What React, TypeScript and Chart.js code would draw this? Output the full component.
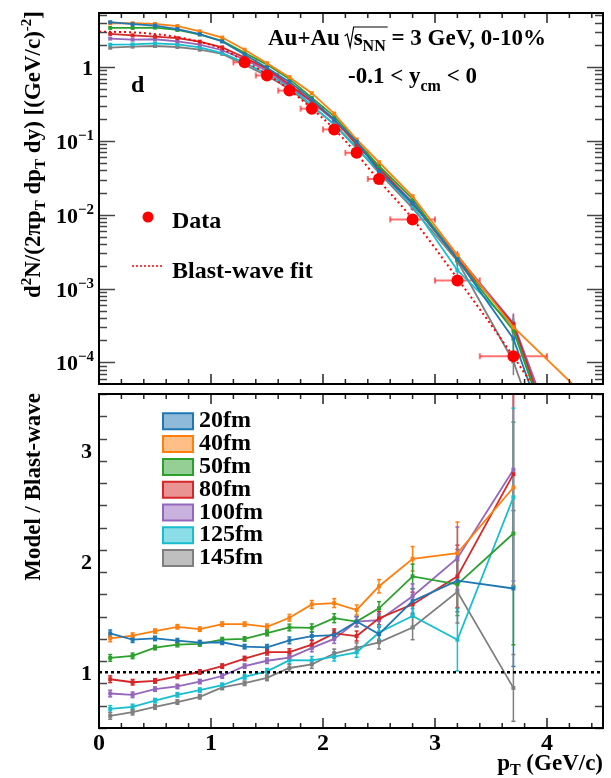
import React, { useEffect, useRef } from "react";
import { Chart, registerables } from "chart.js";

Chart.register(...registerables);

// ---------------- DATA ----------------
const PT = [0.1, 0.3, 0.5, 0.7, 0.9, 1.1, 1.3, 1.5, 1.7, 1.9, 2.1, 2.3, 2.5, 2.8, 3.2, 3.7];

const MODEL_NAMES = ["20fm", "40fm", "50fm", "80fm", "100fm", "125fm", "145fm"];
const MODEL_COLORS = ["#1f77b4", "#ff7f0e", "#2ca02c", "#d62728", "#9467bd", "#17becf", "#7f7f7f"];
const MODEL_FILLS = [
  "rgba(31,119,180,0.5)",
  "rgba(255,127,14,0.5)",
  "rgba(44,160,44,0.5)",
  "rgba(214,39,40,0.5)",
  "rgba(148,103,189,0.5)",
  "rgba(23,190,207,0.5)",
  "rgba(127,127,127,0.5)",
];

// Spectra (top panel), d2N/(2pi pT dpT dy)
const SPEC_20FM = [4.05, 3.81, 3.65, 3.27, 2.79, 2.22, 1.48, 0.98, 0.63, 0.365, 0.194, 0.0976, 0.039, 0.0144, 0.0025, 0.00021];
const SPEC_40FM = [3.92, 3.92, 3.84, 3.59, 3.05, 2.51, 1.72, 1.13, 0.73, 0.443, 0.235, 0.1045, 0.0514, 0.0178, 0.00284, 0.0003];
const SPEC_50FM = [3.39, 3.39, 3.42, 3.18, 2.76, 2.26, 1.56, 1.08, 0.687, 0.385, 0.215, 0.0976, 0.0457, 0.0164, 0.00245, 0.00027];
const SPEC_80FM = [2.81, 2.69, 2.58, 2.46, 2.21, 1.85, 1.35, 0.945, 0.579, 0.343, 0.196, 0.0888, 0.0431, 0.0142, 0.00255, 0.00033];
const SPEC_100FM = [2.43, 2.35, 2.38, 2.23, 2.02, 1.69, 1.27, 0.883, 0.555, 0.335, 0.189, 0.0976, 0.0426, 0.0148, 0.00277, 0.00034];
const SPEC_125FM = [2.01, 2.03, 2.09, 2.03, 1.85, 1.55, 1.15, 0.807, 0.544, 0.304, 0.166, 0.079, 0.0394, 0.0133, 0.00177, 0.00031];
const SPEC_145FM = [1.83, 1.89, 1.93, 1.87, 1.72, 1.51, 1.08, 0.76, 0.509, 0.295, 0.17, 0.0817, 0.0368, 0.0123, 0.00236, 0.000103];
const SPECTRA = [SPEC_20FM, SPEC_40FM, SPEC_50FM, SPEC_80FM, SPEC_100FM, SPEC_125FM, SPEC_145FM];
// last (off-scale) point of each model curve
const TAIL_PT = [4.1, 4.3, 4.1, 4.1, 4.1, 4.1, 4.1];
const TAIL_VAL = [4e-6, 4e-5, 5e-6, 6e-6, 8e-6, 5e-6, 2e-6];

// Ratios Model / Blast-wave (bottom panel)
const RATIO_20FM = [1.35, 1.293, 1.305, 1.284, 1.267, 1.27, 1.231, 1.225, 1.287, 1.326, 1.335, 1.456, 1.344, 1.64, 1.824, 1.753];
const RATIO_40FM = [1.305, 1.329, 1.37, 1.409, 1.388, 1.433, 1.433, 1.409, 1.49, 1.61, 1.622, 1.56, 1.773, 2.02, 2.07, 2.66];
const RATIO_50FM = [1.13, 1.148, 1.222, 1.249, 1.255, 1.293, 1.3, 1.353, 1.403, 1.4, 1.486, 1.456, 1.575, 1.862, 1.79, 2.247];
const RATIO_80FM = [0.938, 0.911, 0.923, 0.964, 1.003, 1.056, 1.124, 1.181, 1.181, 1.249, 1.35, 1.326, 1.486, 1.61, 1.862, 2.78];
const RATIO_100FM = [0.81, 0.798, 0.849, 0.873, 0.917, 0.967, 1.056, 1.104, 1.133, 1.219, 1.3, 1.456, 1.468, 1.684, 2.025, 2.82];
const RATIO_125FM = [0.671, 0.689, 0.745, 0.798, 0.84, 0.884, 0.959, 1.009, 1.11, 1.107, 1.142, 1.18, 1.358, 1.507, 1.293, 2.573];
const RATIO_145FM = [0.609, 0.642, 0.689, 0.733, 0.78, 0.864, 0.902, 0.95, 1.039, 1.071, 1.169, 1.219, 1.27, 1.403, 1.723, 0.86];
const RATIOS = [RATIO_20FM, RATIO_40FM, RATIO_50FM, RATIO_80FM, RATIO_100FM, RATIO_125FM, RATIO_145FM];
// ratio uncertainties (common up to 3.2 GeV/c, per model at 3.7 GeV/c)
const RATIO_ERR = [0.03, 0.025, 0.02, 0.02, 0.02, 0.02, 0.02, 0.025, 0.03, 0.035, 0.04, 0.045, 0.06, 0.11, 0.28];
const RATIO_ERR_LAST = [0.7, 0.9, 1.0, 1.0, 1.0, 0.8, 0.3];

// Measured data
const DATA_PT = [1.3, 1.5, 1.7, 1.9, 2.1, 2.3, 2.5, 2.8, 3.2, 3.7];
const DATA_VAL = [1.16, 0.77, 0.48, 0.273, 0.143, 0.069, 0.0305, 0.00865, 0.00129, 0.000121];
const DATA_XLO = [1.2, 1.4, 1.6, 1.8, 2.0, 2.2, 2.4, 2.6, 3.0, 3.4];
const DATA_XHI = [1.4, 1.6, 1.8, 2.0, 2.2, 2.4, 2.6, 3.0, 3.4, 4.0];

// Blast-wave fit
const BW_PT = [0, 0.1, 0.3, 0.5, 0.7, 0.9, 1.1, 1.3, 1.5, 1.7, 1.9, 2.1, 2.3, 2.5, 2.8, 3.2, 3.7, 3.85, 4.0, 4.5];
const BW_VAL = [3.0, 3.0, 2.95, 2.8, 2.55, 2.2, 1.75, 1.2, 0.8, 0.49, 0.275, 0.145, 0.067, 0.029, 0.0088, 0.00137, 0.00012, 5.5e-5, 2.6e-5, 2.2e-6];

const Y_TOP_MIN = 5.1e-5;
const Y_TOP_MAX = 5.4;
const Y_BOT_MIN = 0.5;
const Y_BOT_MAX = 3.5;
const X_MIN = 0;
const X_MAX = 4.5;

const FONT = '"Liberation Serif", "Times New Roman", serif';

// ---------------- helpers ----------------
type Part = { t: string; size: number; dy?: number; weight?: string };

function richWidth(ctx: CanvasRenderingContext2D, parts: Part[]) {
  let w = 0;
  for (const p of parts) {
    ctx.font = `${p.weight ?? "bold"} ${p.size}px ${FONT}`;
    w += ctx.measureText(p.t).width;
  }
  return w;
}

function drawRich(ctx: CanvasRenderingContext2D, parts: Part[], x: number, y: number, align: "left" | "right" | "center" = "left") {
  const w = richWidth(ctx, parts);
  let cx = align === "left" ? x : align === "right" ? x - w : x - w / 2;
  ctx.textAlign = "left";
  ctx.textBaseline = "alphabetic";
  for (const p of parts) {
    ctx.font = `${p.weight ?? "bold"} ${p.size}px ${FONT}`;
    ctx.fillText(p.t, cx, y + (p.dy ?? 0));
    cx += ctx.measureText(p.t).width;
  }
}

function line(ctx: CanvasRenderingContext2D, x1: number, y1: number, x2: number, y2: number) {
  ctx.beginPath();
  ctx.moveTo(x1, y1);
  ctx.lineTo(x2, y2);
  ctx.stroke();
}

function drawXTicks(ctx: CanvasRenderingContext2D, chart: any, yEdge: number, dir: number) {
  const xs = chart.scales.x;
  ctx.strokeStyle = "#222";
  ctx.lineWidth = 1.5;
  for (let k = 0; k <= 22; k++) {
    const v = k * 0.2;
    if (v > X_MAX + 1e-9) break;
    const px = xs.getPixelForValue(v);
    const major = k % 5 === 0;
    line(ctx, px, yEdge, px, yEdge + dir * (major ? 10 : 5));
  }
}

function drawFrame(ctx: CanvasRenderingContext2D, area: any) {
  ctx.strokeStyle = "#000";
  ctx.lineWidth = 2;
  ctx.strokeRect(area.left, area.top, area.right - area.left, area.bottom - area.top);
}

// ---------------- plugins ----------------
const topPlugin = {
  id: "topPanel",
  beforeDatasetsDraw(chart: any) {
    const ctx: CanvasRenderingContext2D = chart.ctx;
    const xs = chart.scales.x;
    const ys = chart.scales.y;
    const a = chart.chartArea;
    ctx.save();
    ctx.beginPath();
    ctx.rect(a.left, a.top, a.right - a.left, a.bottom - a.top);
    ctx.clip();
    // model error bars
    SPECTRA.forEach((spec, i) => {
      ctx.strokeStyle = MODEL_COLORS[i];
      ctx.lineWidth = 1.5;
      spec.forEach((v, j) => {
        const err = j < RATIO_ERR.length ? RATIO_ERR[j] : RATIO_ERR_LAST[i];
        const rel = err / RATIOS[i][j];
        const px = xs.getPixelForValue(PT[j]);
        const lo = Math.max(v * (1 - rel), Y_TOP_MIN * 0.5);
        const y1 = ys.getPixelForValue(v * (1 + rel));
        const y2 = ys.getPixelForValue(lo);
        line(ctx, px, y1, px, y2);
      });
    });
    // data x error bars
    ctx.strokeStyle = "rgba(255,0,0,0.55)";
    ctx.lineWidth = 2;
    DATA_PT.forEach((p, j) => {
      const py = ys.getPixelForValue(DATA_VAL[j]);
      const x1 = xs.getPixelForValue(DATA_XLO[j]);
      const x2 = xs.getPixelForValue(DATA_XHI[j]);
      line(ctx, x1, py, x2, py);
      line(ctx, x1, py - 3, x1, py + 3);
      line(ctx, x2, py - 3, x2, py + 3);
    });
    ctx.restore();
  },
  afterDraw(chart: any) {
    const ctx: CanvasRenderingContext2D = chart.ctx;
    const a = chart.chartArea;
    const ys = chart.scales.y;
    ctx.save();
    // y log ticks (left and right)
    ctx.strokeStyle = "#444";
    ctx.lineWidth = 1.5;
    for (let d = -5; d <= 1; d++) {
      for (let k = 1; k <= 9; k++) {
        const v = k * Math.pow(10, d);
        if (v < Y_TOP_MIN || v > Y_TOP_MAX) continue;
        const py = Math.round(ys.getPixelForValue(v)) + 0.5;
        const len = k === 1 ? 16 : 8;
        line(ctx, a.left, py, a.left + len, py);
        line(ctx, a.right, py, a.right - len, py);
      }
    }
    drawXTicks(ctx, chart, a.top, 1);
    drawXTicks(ctx, chart, a.bottom, -1);
    drawFrame(ctx, a);

    // y tick labels
    ctx.fillStyle = "#000";
    for (let d = -4; d <= 0; d++) {
      const py = ys.getPixelForValue(Math.pow(10, d));
      if (d === 0) {
        drawRich(ctx, [{ t: "1", size: 22 }], 93, py + 8, "right");
      } else {
        drawRich(ctx, [{ t: "10", size: 22 }, { t: "\u2212" + -d, size: 15, dy: -9 }], 94, py + 8, "right");
      }
    }

    // y title (rotated)
    ctx.save();
    ctx.translate(40, 11);
    ctx.rotate(-Math.PI / 2);
    drawRich(
      ctx,
      [
        { t: "d", size: 23 },
        { t: "2", size: 15, dy: -9 },
        { t: "N/(2\u03c0p", size: 23 },
        { t: "T", size: 15, dy: 5 },
        { t: " dp", size: 23 },
        { t: "T", size: 15, dy: 5 },
        { t: " dy) [(GeV/c)", size: 23 },
        { t: "-2", size: 15, dy: -9 },
        { t: "]", size: 23 },
      ],
      0,
      0,
      "right"
    );
    ctx.restore();

    // header text
    const hx = 268;
    const hy = 45;
    drawRich(ctx, [{ t: "Au+Au ", size: 23 }], hx, hy, "left");
    const w1 = richWidth(ctx, [{ t: "Au+Au ", size: 23 }]);
    const rx = hx + w1 - 1;
    // radical sign
    ctx.strokeStyle = "#000";
    ctx.lineWidth = 1.2;
    ctx.beginPath();
    ctx.moveTo(rx, hy - 9);
    ctx.lineTo(rx + 2.5, hy - 11);
    ctx.lineTo(rx + 5.5, hy + 2);
    ctx.lineTo(rx + 9, hy - 18);
    ctx.lineTo(rx + 43, hy - 18);
    ctx.stroke();
    drawRich(
      ctx,
      [
        { t: "s", size: 23 },
        { t: "NN", size: 16, dy: 6 },
        { t: " = 3 GeV, 0-10%", size: 23 },
      ],
      rx + 9,
      hy,
      "left"
    );

    drawRich(
      ctx,
      [
        { t: "-0.1 < y", size: 23 },
        { t: "cm", size: 16, dy: 8 },
        { t: " < 0", size: 23 },
      ],
      348,
      83,
      "left"
    );

    // panel letter
    drawRich(ctx, [{ t: "d", size: 24 }], 131, 92, "left");

    // legend (top)
    ctx.fillStyle = "#ff0000";
    ctx.beginPath();
    ctx.arc(148, 217, 5.5, 0, Math.PI * 2);
    ctx.fill();
    ctx.strokeStyle = "#ff0000";
    ctx.lineWidth = 1.5;
    ctx.setLineDash([2, 2]);
    line(ctx, 132, 266, 162, 266);
    ctx.setLineDash([]);
    ctx.fillStyle = "#000";
    drawRich(ctx, [{ t: "Data", size: 24 }], 172, 228, "left");
    drawRich(ctx, [{ t: "Blast-wave fit", size: 24 }], 172, 278, "left");
    ctx.restore();
  },
};

const bottomPlugin = {
  id: "bottomPanel",
  beforeDatasetsDraw(chart: any) {
    const ctx: CanvasRenderingContext2D = chart.ctx;
    const xs = chart.scales.x;
    const ys = chart.scales.y;
    const a = chart.chartArea;
    ctx.save();
    ctx.beginPath();
    ctx.rect(a.left, a.top, a.right - a.left, a.bottom - a.top);
    ctx.clip();
    RATIOS.forEach((r, i) => {
      ctx.strokeStyle = MODEL_COLORS[i];
      ctx.lineWidth = 1.5;
      r.forEach((v, j) => {
        const err = j < RATIO_ERR.length ? RATIO_ERR[j] : RATIO_ERR_LAST[i];
        const px = xs.getPixelForValue(PT[j]);
        const y1 = ys.getPixelForValue(v + err);
        const y2 = ys.getPixelForValue(v - err);
        line(ctx, px, y1, px, y2);
        line(ctx, px - 2, y1, px + 2, y1);
        line(ctx, px - 2, y2, px + 2, y2);
      });
    });
    ctx.restore();
  },
  afterDraw(chart: any) {
    const ctx: CanvasRenderingContext2D = chart.ctx;
    const a = chart.chartArea;
    const xs = chart.scales.x;
    const ys = chart.scales.y;
    ctx.save();
    ctx.strokeStyle = "#444";
    ctx.lineWidth = 1.5;
    for (let k = 0; k <= 15; k++) {
      const v = Y_BOT_MIN + k * 0.2;
      if (v > Y_BOT_MAX + 1e-9) break;
      const py = Math.round(ys.getPixelForValue(v)) + 0.5;
      const major = Math.abs(v - Math.round(v)) < 1e-6;
      const len = major ? 16 : 8;
      line(ctx, a.left, py, a.left + len, py);
      line(ctx, a.right, py, a.right - len, py);
    }
    drawXTicks(ctx, chart, a.top, 1);
    drawXTicks(ctx, chart, a.bottom, -1);
    drawFrame(ctx, a);

    ctx.fillStyle = "#000";
    // y labels
    [1, 2, 3].forEach((v) => {
      const py = ys.getPixelForValue(v);
      drawRich(ctx, [{ t: String(v), size: 22 }], 92, py + 8, "right");
    });
    // x labels
    [0, 1, 2, 3, 4].forEach((v) => {
      const px = xs.getPixelForValue(v);
      drawRich(ctx, [{ t: String(v), size: 24 }], px, a.bottom + 22, "center");
    });
    // x title
    drawRich(
      ctx,
      [
        { t: "p", size: 23 },
        { t: "T", size: 16, dy: 5 },
        { t: " (GeV/c)", size: 23 },
      ],
      603,
      a.bottom + 42,
      "right"
    );

    // y title
    ctx.save();
    ctx.translate(40, 3);
    ctx.rotate(-Math.PI / 2);
    drawRich(ctx, [{ t: "Model / Blast-wave", size: 23 }], 0, 0, "right");
    ctx.restore();

    // legend
    MODEL_NAMES.forEach((name, i) => {
      const top = 23.3 + i * 22.8;
      ctx.fillStyle = MODEL_FILLS[i];
      ctx.strokeStyle = MODEL_COLORS[i];
      ctx.lineWidth = 2;
      ctx.beginPath();
      ctx.rect(163, top, 30, 16);
      ctx.fill();
      ctx.stroke();
      ctx.fillStyle = "#000";
      drawRich(ctx, [{ t: name, size: 24 }], 199, top + 14, "left");
    });
    ctx.restore();
  },
};

// ---------------- component ----------------
export default function App() {
  const topRef = useRef<HTMLCanvasElement | null>(null);
  const botRef = useRef<HTMLCanvasElement | null>(null);

  useEffect(() => {
    document.body.style.margin = "0";
    const modelTop = SPECTRA.map((spec, i) => ({
      label: MODEL_NAMES[i],
      data: [...PT.map((x, j) => ({ x, y: spec[j] })), { x: TAIL_PT[i], y: TAIL_VAL[i] }],
      borderColor: MODEL_COLORS[i],
      backgroundColor: MODEL_COLORS[i],
      borderWidth: 1.8,
      pointStyle: "rect",
      pointRadius: [...PT.map(() => 2.8), 0],
      pointBorderWidth: 0,
      pointBackgroundColor: MODEL_COLORS[i],
      fill: false,
      tension: 0,
    }));

    const top = new Chart(topRef.current as HTMLCanvasElement, {
      type: "line",
      data: {
        datasets: [
          {
            label: "Data",
            data: DATA_PT.map((x, j) => ({ x, y: DATA_VAL[j] })),
            showLine: false,
            pointRadius: 6,
            pointStyle: "circle",
            pointBackgroundColor: "#ff0000",
            pointBorderColor: "#ff0000",
            pointBorderWidth: 0,
            borderColor: "#ff0000",
            backgroundColor: "#ff0000",
          },
          {
            label: "Blast-wave fit",
            data: BW_PT.map((x, j) => ({ x, y: BW_VAL[j] })),
            borderColor: "#ff0000",
            borderDash: [2, 3],
            borderWidth: 2,
            pointRadius: 0,
            cubicInterpolationMode: "monotone",
            fill: false,
          },
          ...modelTop,
        ] as any,
      },
      options: {
        animation: false,
        responsive: false,
        events: [],
        layout: { padding: { left: 99, right: 8, top: 13, bottom: 0 } },
        plugins: { legend: { display: false }, tooltip: { enabled: false }, title: { display: false } },
        scales: {
          x: { type: "linear", min: X_MIN, max: X_MAX, display: false },
          y: { type: "logarithmic", min: Y_TOP_MIN, max: Y_TOP_MAX, display: false },
        },
      },
      plugins: [topPlugin],
    } as any);

    const modelBot = RATIOS.map((r, i) => ({
      label: MODEL_NAMES[i],
      data: PT.map((x, j) => ({ x, y: r[j] })),
      borderColor: MODEL_COLORS[i],
      backgroundColor: MODEL_COLORS[i],
      borderWidth: 1.8,
      pointStyle: "rect",
      pointRadius: 2.8,
      pointBorderWidth: 0,
      pointBackgroundColor: MODEL_COLORS[i],
      fill: false,
      tension: 0,
    }));

    const bot = new Chart(botRef.current as HTMLCanvasElement, {
      type: "line",
      data: {
        datasets: [
          {
            label: "unity",
            data: [
              { x: X_MIN, y: 1 },
              { x: X_MAX, y: 1 },
            ],
            borderColor: "#000",
            borderDash: [3, 3],
            borderWidth: 2.5,
            pointRadius: 0,
            fill: false,
          },
          ...modelBot,
        ] as any,
      },
      options: {
        animation: false,
        responsive: false,
        events: [],
        layout: { padding: { left: 99, right: 8, top: 0, bottom: 50 } },
        plugins: { legend: { display: false }, tooltip: { enabled: false }, title: { display: false } },
        scales: {
          x: { type: "linear", min: X_MIN, max: X_MAX, display: false },
          y: { type: "linear", min: Y_BOT_MIN, max: Y_BOT_MAX, display: false },
        },
      },
      plugins: [bottomPlugin],
    } as any);

    return () => {
      top.destroy();
      bot.destroy();
    };
  }, []);

  return (
    <div style={{ position: "fixed", left: 0, top: 0, width: 611, height: 778, background: "#fff" }}>
      <canvas ref={topRef} width={611} height={390} style={{ position: "absolute", left: 0, top: 0, width: 611, height: 390 }} />
      <canvas ref={botRef} width={611} height={388} style={{ position: "absolute", left: 0, top: 390, width: 611, height: 388 }} />
    </div>
  );
}
